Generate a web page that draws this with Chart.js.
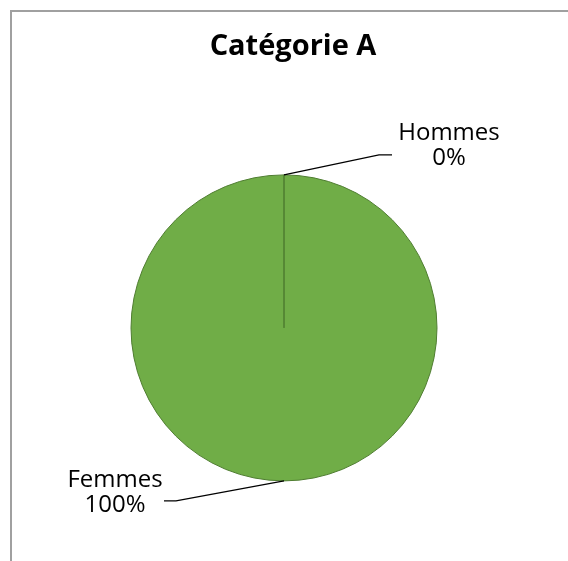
<!DOCTYPE html>
<html>
<head>
<meta charset="utf-8">
<script src="https://cdn.jsdelivr.net/npm/chart.js@4.4.1/dist/chart.umd.min.js"></script>
<style>
  html, body { margin: 0; padding: 0; background: #fff; overflow: hidden; }
  #frame { position: absolute; left: 10px; top: 10px; width: 600px; height: 600px;
           border-left: 2px solid #a0a0a0; border-top: 2px solid #a0a0a0; }
  #wrap { position: absolute; left: 0; top: 0; width: 568px; height: 561px; }
</style>
</head>
<body>
<div id="frame"></div>
<div id="wrap"><canvas id="myChart"></canvas></div>
<script>
const chartTitle = 'Catégorie A';
const categories = ['Hommes', 'Femmes'];
const shares = [0, 100];
const sliceColors = ['#70ad47', '#70ad47'];

// leader line offsets for each label: elbow, end of line, text centre
const labelLayout = [
  {elbow: [95, -20], end: [13, 0], text: [57, -22]},
  {elbow: [-108, 20], end: [-12, 0], text: [-49, -21]}
];

const pieLabels = {
  id: 'pieLabels',
  afterDatasetsDraw(chart) {
    const ctx = chart.ctx;
    const meta = chart.getDatasetMeta(0);
    const total = shares.reduce((a, b) => a + b, 0);
    ctx.save();
    meta.data.forEach((arc, i) => {
      const p = arc.getProps(['x', 'y', 'startAngle', 'endAngle', 'outerRadius'], true);
      const mid = (p.startAngle + p.endAngle) / 2;
      const x0 = p.x + Math.cos(mid) * p.outerRadius;
      const y0 = p.y + Math.sin(mid) * p.outerRadius;
      const lay = labelLayout[i];
      const x1 = x0 + lay.elbow[0], y1 = y0 + lay.elbow[1];
      const x2 = x1 + lay.end[0], y2 = y1 + lay.end[1];
      ctx.strokeStyle = '#000';
      ctx.lineWidth = 1.2;
      ctx.beginPath();
      ctx.moveTo(x0, y0);
      ctx.lineTo(x1, y1);
      ctx.lineTo(x2, y2);
      ctx.stroke();

      const tx = x2 + lay.text[0], ty = y2 + lay.text[1];
      ctx.fillStyle = '#000';
      ctx.font = '24px "Open Sans"';
      ctx.textAlign = 'center';
      ctx.textBaseline = 'middle';
      ctx.fillText(categories[i], tx, ty);
      ctx.fillText(Math.round(shares[i] / total * 100) + '%', tx, ty + 25);
    });
    ctx.restore();
  }
};

const ctx = document.getElementById('myChart').getContext('2d');
const myChart = new Chart(ctx, {
  type: 'pie',
  data: {
    labels: categories,
    datasets: [{
      data: shares,
      backgroundColor: sliceColors,
      borderColor: '#4f7d31',
      borderWidth: 1,
      radius: 153
    }]
  },
  options: {
    responsive: true,
    maintainAspectRatio: false,
    animation: false,
    layout: {padding: {left: 18, right: 0, top: 0, bottom: 0}},
    plugins: {
      title: {
        display: true,
        text: chartTitle,
        color: '#000',
        font: {family: '"Open Sans"', size: 29, weight: 'bold'},
        padding: {top: 29, bottom: 31}
      },
      // empty legend, only used to keep the pie a little left of the title
      legend: {
        display: true,
        position: 'right',
        labels: {padding: 8, filter: () => false}
      },
      tooltip: {enabled: false}
    }
  },
  plugins: [pieLabels]
});
</script>
</body>
</html>
